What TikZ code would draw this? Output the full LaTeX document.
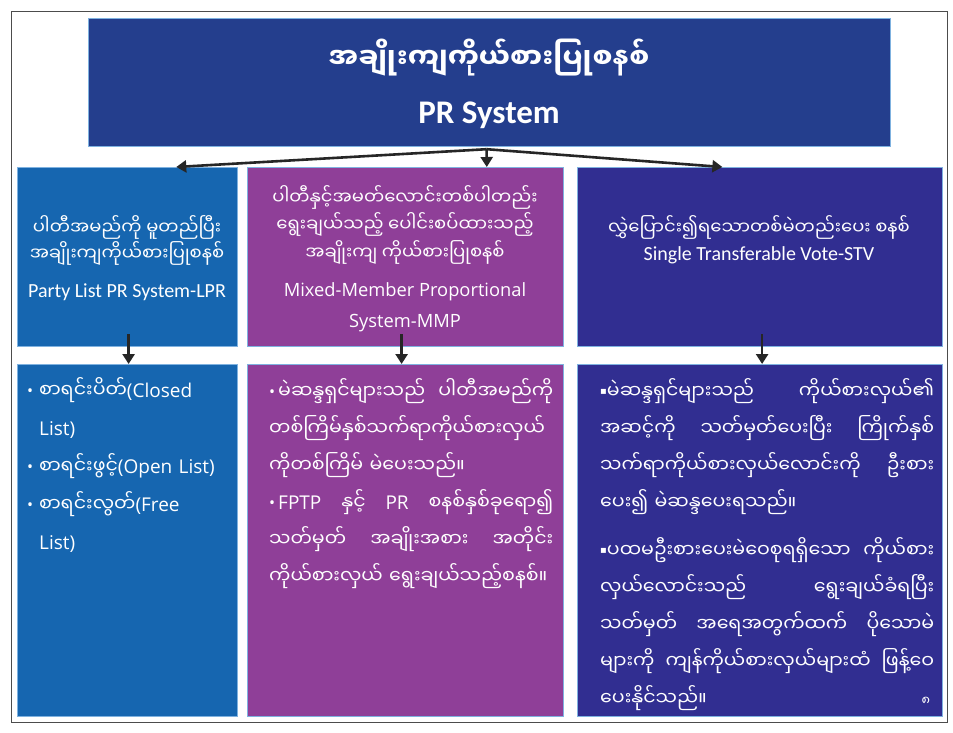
\documentclass[tikz,border=0pt]{standalone}
\usepackage{fontspec}
\setmainfont{Carlito}
\newfontfamily\mm[Script=Myanmar]{Noto Sans Myanmar UI}
\newfontfamily\osans{Open Sans}
\newfontfamily\djv{DejaVu Sans}
\usetikzlibrary{arrows.meta,calc}
\definecolor{ctitle}{HTML}{243E8D}
\definecolor{cone}{HTML}{1666B0}
\definecolor{ctwo}{HTML}{8F3F98}
\definecolor{cthree}{HTML}{312E91}
\definecolor{cedge}{HTML}{7FB2E0}
\newcommand{\rbul}[1]{\makebox[#1][l]{\raisebox{0.5pt}{\osans\fontsize{16}{16}\selectfont •}}}
\newcommand{\sqb}{\raisebox{4pt}{\djv\fontsize{10}{10}\selectfont ▪}}
\begin{document}
\begin{tikzpicture}[x=1pt,y=-1pt,
  bx/.style={draw=cedge, line width=1.2pt, anchor=north west, inner sep=0pt},
  arr/.style={line width=2.6pt, black!85, -{Triangle[length=10pt,width=12pt]}},
  hd/.style={text=white, inner sep=0pt, font=\mm\fontsize{18}{20}\selectfont},
  hdl/.style={text=white, inner sep=0pt, font=\fontsize{20}{22}\selectfont},
  hdo/.style={text=white, inner sep=0pt, font=\osans\fontsize{18.3}{20}\selectfont},
  lt/.style={text=white, inner sep=0pt, anchor=north west, align=left, font=\mm\fontsize{19}{37}\selectfont},
]
\useasboundingbox (0,0) rectangle (953,732);
\fill[white] (0,0) rectangle (953,732);
\draw[black!70, line width=0.8pt] (11,11) rectangle (947,722);

% boxes
\node[bx, fill=ctitle, minimum width=802pt, minimum height=128pt] (title) at (88,18) {};
\node[bx, fill=cone,   minimum width=220pt, minimum height=179pt] (b1) at (17,167) {};
\node[bx, fill=ctwo,   minimum width=316pt, minimum height=179pt] (b2) at (247,167) {};
\node[bx, fill=cthree, minimum width=365pt, minimum height=179pt] (b3) at (577,167) {};
\node[bx, fill=cone,   minimum width=220pt, minimum height=352pt] (l1) at (17,364) {};
\node[bx, fill=ctwo,   minimum width=316pt, minimum height=352pt] (l2) at (247,364) {};
\node[bx, fill=cthree, minimum width=365pt, minimum height=352pt] (l3) at (577,364) {};

% title text
\node[text=white, inner sep=0pt, font=\mm\bfseries\fontsize{28}{34}\selectfont] (tmm) at (489,58) {အချိုးကျကိုယ်စားပြုစနစ်};
\node[text=white, inner sep=0pt, font=\bfseries\fontsize{33}{36}\selectfont] (ten) at (489,115) {PR System};

% upper box texts
\node[hd] (a1) at (127,227) {ပါတီအမည်ကို မူတည်ပြီး};
\node[hd] (a2) at (127,253) {အချိုးကျကိုယ်စားပြုစနစ်};
\node[hdl] (a3) at (127,292) {Party List PR System-LPR};

\node[hd] (m1) at (405,197) {ပါတီနှင့်အမတ်လောင်းတစ်ပါတည်း};
\node[hd] (m2) at (405,224) {ရွေးချယ်သည့် ပေါင်းစပ်ထားသည့်};
\node[hd] (m3) at (405,252) {အချိုးကျ ကိုယ်စားပြုစနစ်};
\node[hdo] (m4) at (405,292) {Mixed-Member Proportional};
\node[hdo] (m5) at (405,323) {System-MMP};

\node[hd] (s1) at (759,227) {လွှဲပြောင်း၍ရသောတစ်မဲတည်းပေး စနစ်};
\node[hdl] (s2) at (759,255) {Single Transferable Vote-STV};

% lower box texts
\node[lt, text width=200pt, font=\mm\fontsize{19}{38}\selectfont] (t1) at (27,377) {%
\rbul{12pt}စာရင်းပိတ်{\osans(Closed}\\
\hspace*{12pt}{\osans List)}\\
\rbul{12pt}စာရင်းဖွင့်{\osans(Open List)}\\
\rbul{12pt}စာရင်းလွတ်{\osans(Free}\\
\hspace*{12pt}{\osans List)}};

\node[lt, text width=284pt] (t2) at (269,378) {%
\rbul{9pt}မဲဆန္ဒရှင်များသည်\hfill ပါတီအမည်ကို\\
တစ်ကြိမ်နှစ်သက်ရာကိုယ်စားလှယ်\\
ကိုတစ်ကြိမ် မဲပေးသည်။\\
\rbul{9pt}{\osans FPTP}\hfill နှင့်\hfill {\osans PR}\hfill စနစ်နှစ်ခုရော၍\\
သတ်မှတ်\hfill အချိုးအစား\hfill အတိုင်း\\
ကိုယ်စားလှယ် ရွေးချယ်သည့်စနစ်။};

\node[lt, text width=334pt] (t3) at (600,378) {%
\sqb မဲဆန္ဒရှင်များသည်\hfill ကိုယ်စားလှယ်၏\\
အဆင့်ကို\hfill သတ်မှတ်ပေးပြီး\hfill ကြိုက်နှစ်\\
သက်ရာကိုယ်စားလှယ်လောင်းကို\hfill ဦးစား\\
ပေး၍ မဲဆန္ဒပေးရသည်။\\[11pt]
\sqb ပထမဦးစားပေးမဲဝေစုရရှိသော\hfill ကိုယ်စား\\
လှယ်လောင်းသည်\hfill ရွေးချယ်ခံရပြီး\\
သတ်မှတ်\hfill အရေအတွက်ထက်\hfill ပိုသောမဲ\\
များကို\hfill ကျန်ကိုယ်စားလှယ်များထံ\hfill ဖြန့်ဝေ\\
ပေးနိုင်သည်။\hfill{\fontsize{13}{14}\selectfont ၈}\hspace*{4pt}};

% arrows
\coordinate (ap) at ([xshift=-3pt,yshift=-2pt]title.south);
\draw[arr] (ap) -- ($(b1.north west)!0.72!(b1.north east)$);
\draw[arr] (ap) -- ($(b2.north west)!0.756!(b2.north east)$);
\draw[arr] (ap) -- ($(b3.north west)!0.397!(b3.north east)$);
\draw[arr] ([xshift=1pt,yshift=13pt]b1.south) -- ([xshift=1pt]l1.north);
\draw[arr] ([xshift=-4pt,yshift=13pt]b2.south) -- ([xshift=-4pt]l2.north);
\draw[arr] ([xshift=2pt,yshift=13pt]b3.south) -- ([xshift=2pt]l3.north);
\end{tikzpicture}
\end{document}
